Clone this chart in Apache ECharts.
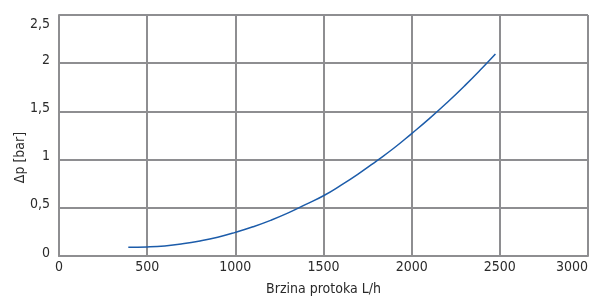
<!DOCTYPE html>
<html>
<head>
<meta charset="utf-8">
<script src="https://cdn.jsdelivr.net/npm/echarts@6/dist/echarts.min.js"></script>
<style>
  html, body { margin: 0; padding: 0; background: #fff; }
  #chart { width: 598px; height: 305px; }
</style>
</head>
<body>
<div id="chart"></div>
<script>
// flow rate (L/h) and pressure drop (bar)
const flowRates = [393, 500, 600, 700, 800, 900, 1000, 1100, 1200, 1300, 1400, 1500,
  1600, 1700, 1800, 1900, 2000, 2100, 2200, 2300, 2400, 2475]
const pressureDrop = [0.09, 0.094, 0.105, 0.126, 0.156, 0.195, 0.245, 0.303, 0.37, 0.447, 0.535, 0.625,
  0.735, 0.855, 0.985, 1.12, 1.27, 1.425, 1.59, 1.765, 1.95, 2.095]
const xTicks = [0, 3000, 500]
const yTicks = [0, 2.5, 0.5]

const gridColor = '#8e8e91'
const textColor = '#2a2a2a'
const font = "'Liberation Sans Narrow', 'DejaVu Sans Condensed', 'Liberation Sans', sans-serif"

const chart = echarts.init(document.getElementById('chart'))

const option = {
  animation: false,
  grid: { left: 59, right: 10, top: 15, bottom: 49, outerBoundsMode: 'none' },
  xAxis: {
    type: 'value',
    min: xTicks[0],
    max: xTicks[1],
    interval: xTicks[2],
    name: 'Brzina protoka L/h',
    nameLocation: 'middle',
    nameGap: 26,
    nameTextStyle: { color: textColor, fontSize: 14, fontFamily: font },
    axisLine: { lineStyle: { color: gridColor, width: 2 } },
    axisTick: { show: false },
    axisLabel: {
      color: textColor, fontSize: 14, fontFamily: font, margin: 4,
      alignMaxLabel: 'right',
      formatter: (v) => String(v)
    },
    splitLine: { lineStyle: { color: gridColor, width: 2 } }
  },
  yAxis: {
    type: 'value',
    min: yTicks[0],
    max: yTicks[1],
    interval: yTicks[2],
    name: 'Δp [bar]',
    nameLocation: 'middle',
    nameGap: 32,
    nameMoveOverlap: false,
    nameTextStyle: { color: textColor, fontSize: 14, fontFamily: font, padding: [0, 44, 0, 0] },
    axisLine: { show: true, lineStyle: { color: gridColor, width: 2 } },
    axisTick: { show: false },
    axisLabel: {
      color: textColor, fontSize: 14, fontFamily: font, margin: 9,
      formatter: (v) => {
        const s = String(v).replace('.', ',')
        return v === yTicks[1] ? '{top|' + s + '}' : '{std|' + s + '}'
      },
      rich: {
        std: { color: textColor, fontSize: 14, fontFamily: font, padding: [0, 0, 6, 0] },
        top: { color: textColor, fontSize: 14, fontFamily: font, padding: [18, 0, 0, 0] }
      }
    },
    splitLine: { lineStyle: { color: gridColor, width: 2 } }
  },
  series: [
    {
      type: 'line',
      data: flowRates.map((q, i) => [q, pressureDrop[i]]),
      smooth: true,
      showSymbol: false,
      lineStyle: { color: '#1c5caa', width: 1.5 }
    }
  ]
}

chart.setOption(option)
</script>
</body>
</html>
